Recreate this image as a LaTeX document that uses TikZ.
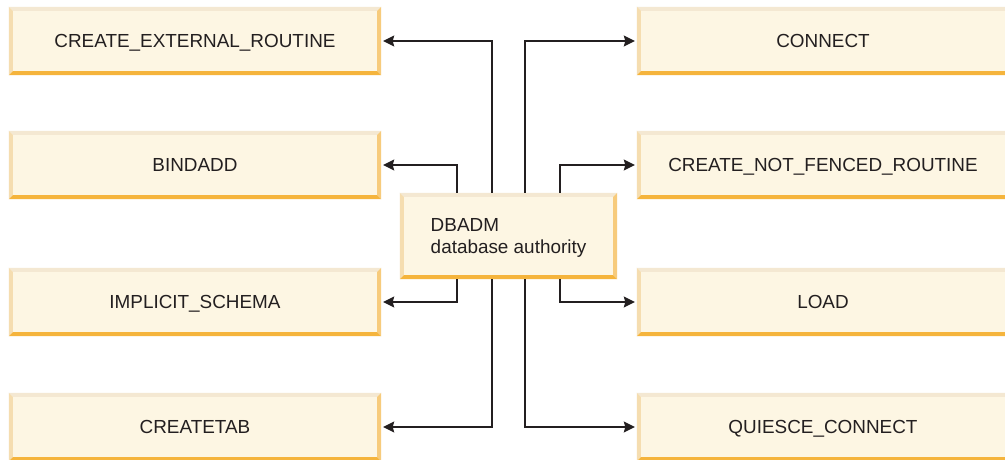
\documentclass[tikz,border=0pt]{standalone}
\usepackage{fontspec}
\setmainfont{Liberation Sans}
\usetikzlibrary{arrows.meta}
\definecolor{boxfill}{HTML}{FDF6E3}
\definecolor{bvtop}{HTML}{F4E8D2}
\definecolor{bvleft}{HTML}{F5DDB0}
\definecolor{bvright}{HTML}{F7CB7C}
\definecolor{bvbottom}{HTML}{F5B43C}
\definecolor{ink}{HTML}{231F20}
\begin{document}
\begin{tikzpicture}[x=1pt,y=-1pt,
  bevelbox/.style={fill=boxfill, inner sep=0pt, text=ink,
    font=\fontsize{18.9}{22}\selectfont},
  sidebox/.style={bevelbox, minimum width=372pt, minimum height=68pt,
    text height=13.5pt, text depth=0pt},
  link/.style={draw=ink, line width=1.3pt, shorten >=2pt,
    -{Stealth[length=11pt,width=11pt,inset=1.5pt]}}]
\clip (0,0) rectangle (1005,459);
\fill[white] (0,0) rectangle (1005,459);

% privilege boxes, left column
\node[sidebox] (ext)  at (195,41)  {CREATE\_EXTERNAL\_ROUTINE};
\node[sidebox] (bind) at (195,165) {BINDADD};
\node[sidebox] (impl) at (195,302) {IMPLICIT\_SCHEMA};
\node[sidebox] (ctab) at (195,427) {CREATETAB};
% privilege boxes, right column
\node[sidebox] (conn) at (823,41)  {CONNECT};
\node[sidebox] (nfr)  at (823,165) {CREATE\_NOT\_FENCED\_ROUTINE};
\node[sidebox] (load) at (823,302) {LOAD};
\node[sidebox] (qc)   at (823,427) {QUIESCE\_CONNECT};
% central authority
\node[bevelbox, minimum width=217pt, minimum height=86pt, align=left]
  (dba) at (508.5,236) {\rule{0pt}{17pt}DBADM\\database authority};

% bevelled edges on every box
\foreach \n in {ext,bind,impl,ctab,conn,nfr,load,qc,dba} {
  \fill[bvtop] (\n.north west) -- (\n.north east)
    -- ([shift={(-4pt,-4pt)}]\n.north east) -- ([shift={(4pt,-4pt)}]\n.north west) -- cycle;
  \fill[bvleft] (\n.north west) -- ([shift={(4pt,-4pt)}]\n.north west)
    -- ([shift={(4pt,4pt)}]\n.south west) -- (\n.south west) -- cycle;
  \fill[bvright] (\n.north east) -- ([shift={(-4pt,-4pt)}]\n.north east)
    -- ([shift={(-4pt,4pt)}]\n.south east) -- (\n.south east) -- cycle;
  \fill[bvbottom] (\n.south west) -- (\n.south east)
    -- ([shift={(-4pt,4pt)}]\n.south east) -- ([shift={(4pt,4pt)}]\n.south west) -- cycle;
}

% connectors from the authority to each privilege
\draw[link] ([xshift=-16.5pt]dba.north) |- (ext.east);
\draw[link] ([xshift=-51.5pt]dba.north) |- (bind.east);
\draw[link] ([xshift=16.5pt]dba.north)  |- (conn.west);
\draw[link] ([xshift=51.5pt]dba.north)  |- (nfr.west);
\draw[link] ([xshift=-51.5pt]dba.south) |- (impl.east);
\draw[link] ([xshift=-16.5pt]dba.south) |- (ctab.east);
\draw[link] ([xshift=51.5pt]dba.south)  |- (load.west);
\draw[link] ([xshift=16.5pt]dba.south)  |- (qc.west);
\end{tikzpicture}
\end{document}
